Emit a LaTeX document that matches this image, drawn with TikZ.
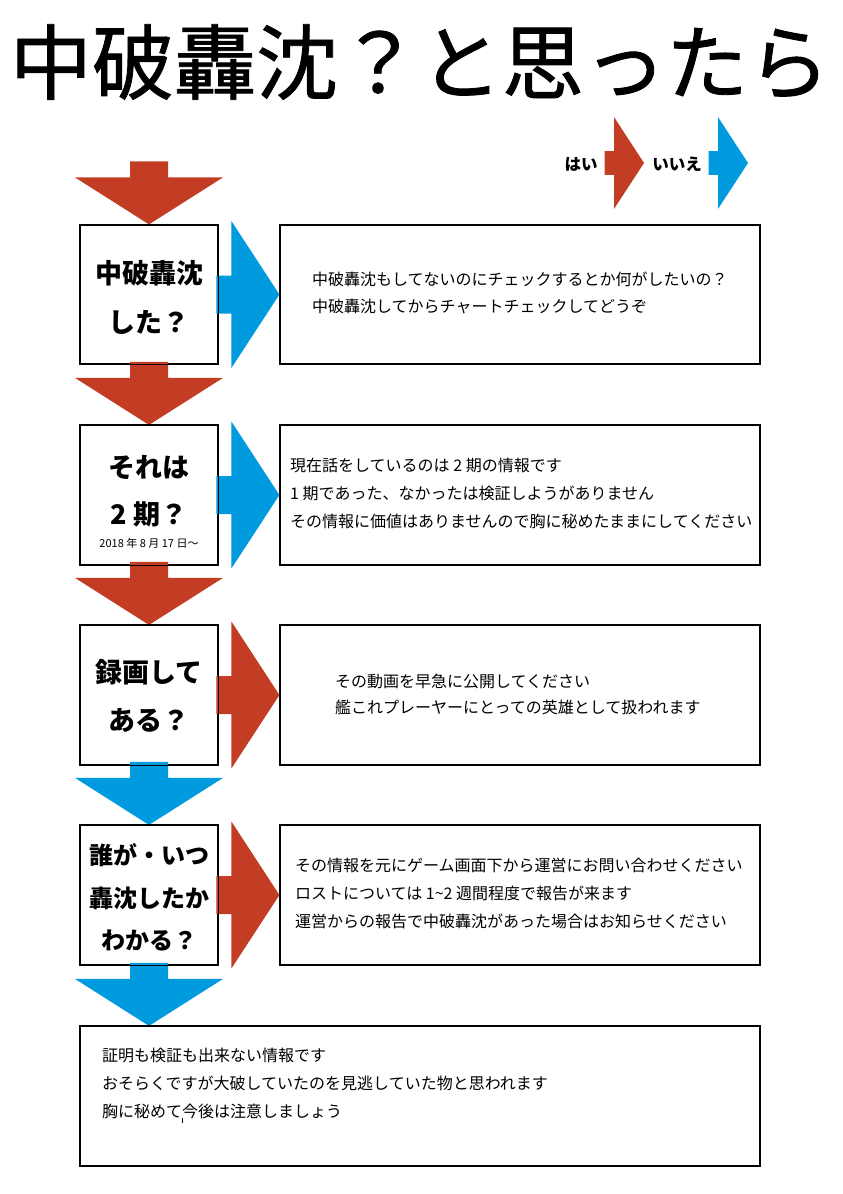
\documentclass[tikz,border=0pt]{standalone}
\usepackage{fontspec}
\newfontfamily\jp{Noto Sans CJK JP}
\newfontfamily\jptitle[FakeBold=1]{Noto Sans CJK JP}
\definecolor{arrred}{RGB}{194,61,35}
\definecolor{arrblue}{RGB}{0,154,222}
\tikzset{
  downarr/.pic={\path[pic actions] (0,0) -- (74,-47) -- (19,-47) -- (19,-63) -- (-19,-63) -- (-19,-47) -- (-74,-47) -- cycle;},
  rightarr/.pic={\path[pic actions] (0,0) -- (-48,-73.5) -- (-48,-19) -- (-63,-19) -- (-63,19) -- (-48,19) -- (-48,73.5) -- cycle;},
  qbox/.style={draw=black, line width=1.2pt, fill=white, minimum width=138pt, minimum height=139pt, inner sep=0pt},
  abox/.style={draw=black, line width=1.2pt, fill=white, minimum width=480pt, minimum height=139pt, inner sep=0pt},
  qtext/.style={font=\jp\bfseries\fontsize{27}{30}\selectfont, inner sep=0pt},
  qtexts/.style={font=\jp\bfseries\fontsize{24}{28}\selectfont, inner sep=0pt},
  atext/.style={font=\jp\fontsize{16}{18}\selectfont, anchor=west, inner sep=0pt},
  legtext/.style={font=\jp\bfseries\fontsize{16.5}{18}\selectfont, inner sep=0pt},
}
\begin{document}
\begin{tikzpicture}[x=1pt,y=-1pt]
\useasboundingbox[fill=white] (0,0) rectangle (843,1194);
% title
\node[font=\jptitle\fontsize{82}{86}\selectfont, inner sep=0pt] (title) at (420,62) {中破轟沈？と思ったら};
% legend
\node[legtext] (yes) at (581,164) {はい};
\node[legtext] (no) at (677,164) {いいえ};
\coordinate (yestip) at (644,163);
\coordinate (notip) at (748,163);
\pic[fill=arrred, scale=0.625] at (yestip) {rightarr};
\pic[fill=arrblue, scale=0.625] at (notip) {rightarr};
% boxes (positions)
\coordinate (c1) at (149,294.5);
\coordinate (c2) at (149,495);
\coordinate (c3) at (149,695);
\coordinate (c4) at (149,895);
\path (c1) node[qbox] (l1) {};
\path (c2) node[qbox] (l2) {};
\path (c3) node[qbox] (l3) {};
\path (c4) node[qbox] (l4) {};
\node[abox] (r1) at (520,294.5) {};
\node[abox] (r2) at (520,495) {};
\node[abox] (r3) at (520,695) {};
\node[abox] (r4) at (520,895) {};
\node[draw=black, line width=1.2pt, fill=white, minimum width=680pt, minimum height=139pt, inner sep=0pt] (f) at (420,1096) {};
% arrows
\pic[fill=arrred] at (l1.north) {downarr};
\pic[fill=arrred] at (l2.north) {downarr};
\pic[fill=arrred] at (l3.north) {downarr};
\pic[fill=arrblue] at (l4.north) {downarr};
\pic[fill=arrblue] at (l4.south |- f.north) {downarr};
\pic[fill=arrblue] at (r1.west) {rightarr};
\pic[fill=arrblue] at (r2.west) {rightarr};
\pic[fill=arrred] at (r3.west) {rightarr};
\pic[fill=arrred] at (r4.west) {rightarr};
% redraw box borders over arrow tips
\foreach \n in {l1,l2,l3,l4,r1,r2,r3,r4,f} {\draw[line width=1.2pt] (\n.north west) rectangle (\n.south east);}
% question texts
\node[qtext] (q1a) at (149,273) {中破轟沈};
\node[qtext] (q1b) at (149,322) {した？};
\node[qtext] (q2a) at (149,468) {それは};
\node[qtext] (q2b) at (149,514) {2 期？};
\node[font=\jp\fontsize{11}{13}\selectfont, inner sep=0pt] (q2c) at (149,543) {2018 年 8 月 17 日〜};
\node[qtext] (q3a) at (149,672) {録画して};
\node[qtext] (q3b) at (149,720) {ある？};
\node[qtexts] (q4a) at (149,855) {誰が・いつ};
\node[qtexts] (q4b) at (149,898) {轟沈したか};
\node[qtexts] (q4c) at (149,940) {わかる？};
% answer texts
\node[atext] (a1a) at (312,279) {中破轟沈もしてないのにチェックするとか何がしたいの？};
\node[atext] (a1b) at (312,306) {中破轟沈してからチャートチェックしてどうぞ};
\node[atext] (a2a) at (290,465) {現在話をしているのは 2 期の情報です};
\node[atext] (a2b) at (290,493) {1 期であった、なかったは検証しようがありません};
\node[atext] (a2c) at (290,521) {その情報に価値はありませんので胸に秘めたままにしてください};
\node[atext] (a3a) at (335,681) {その動画を早急に公開してください};
\node[atext] (a3b) at (335,707) {艦これプレーヤーにとっての英雄として扱われます};
\node[atext] (a4a) at (295,865) {その情報を元にゲーム画面下から運営にお問い合わせください};
\node[atext] (a4b) at (295,893) {ロストについては 1\textasciitilde2 週間程度で報告が来ます};
\node[atext] (a4c) at (295,921) {運営からの報告で中破轟沈があった場合はお知らせください};
\node[atext] (f1) at (102,1055) {証明も検証も出来ない情報です};
\node[atext] (f2) at (102,1083) {おそらくですが大破していたのを見逃していた物と思われます};
\node[atext] (f3) at (102,1111) {胸に秘めて今後は注意しましょう};
\draw[line width=0.8pt] (182,1118) -- (182,1123);
\end{tikzpicture}
\end{document}
